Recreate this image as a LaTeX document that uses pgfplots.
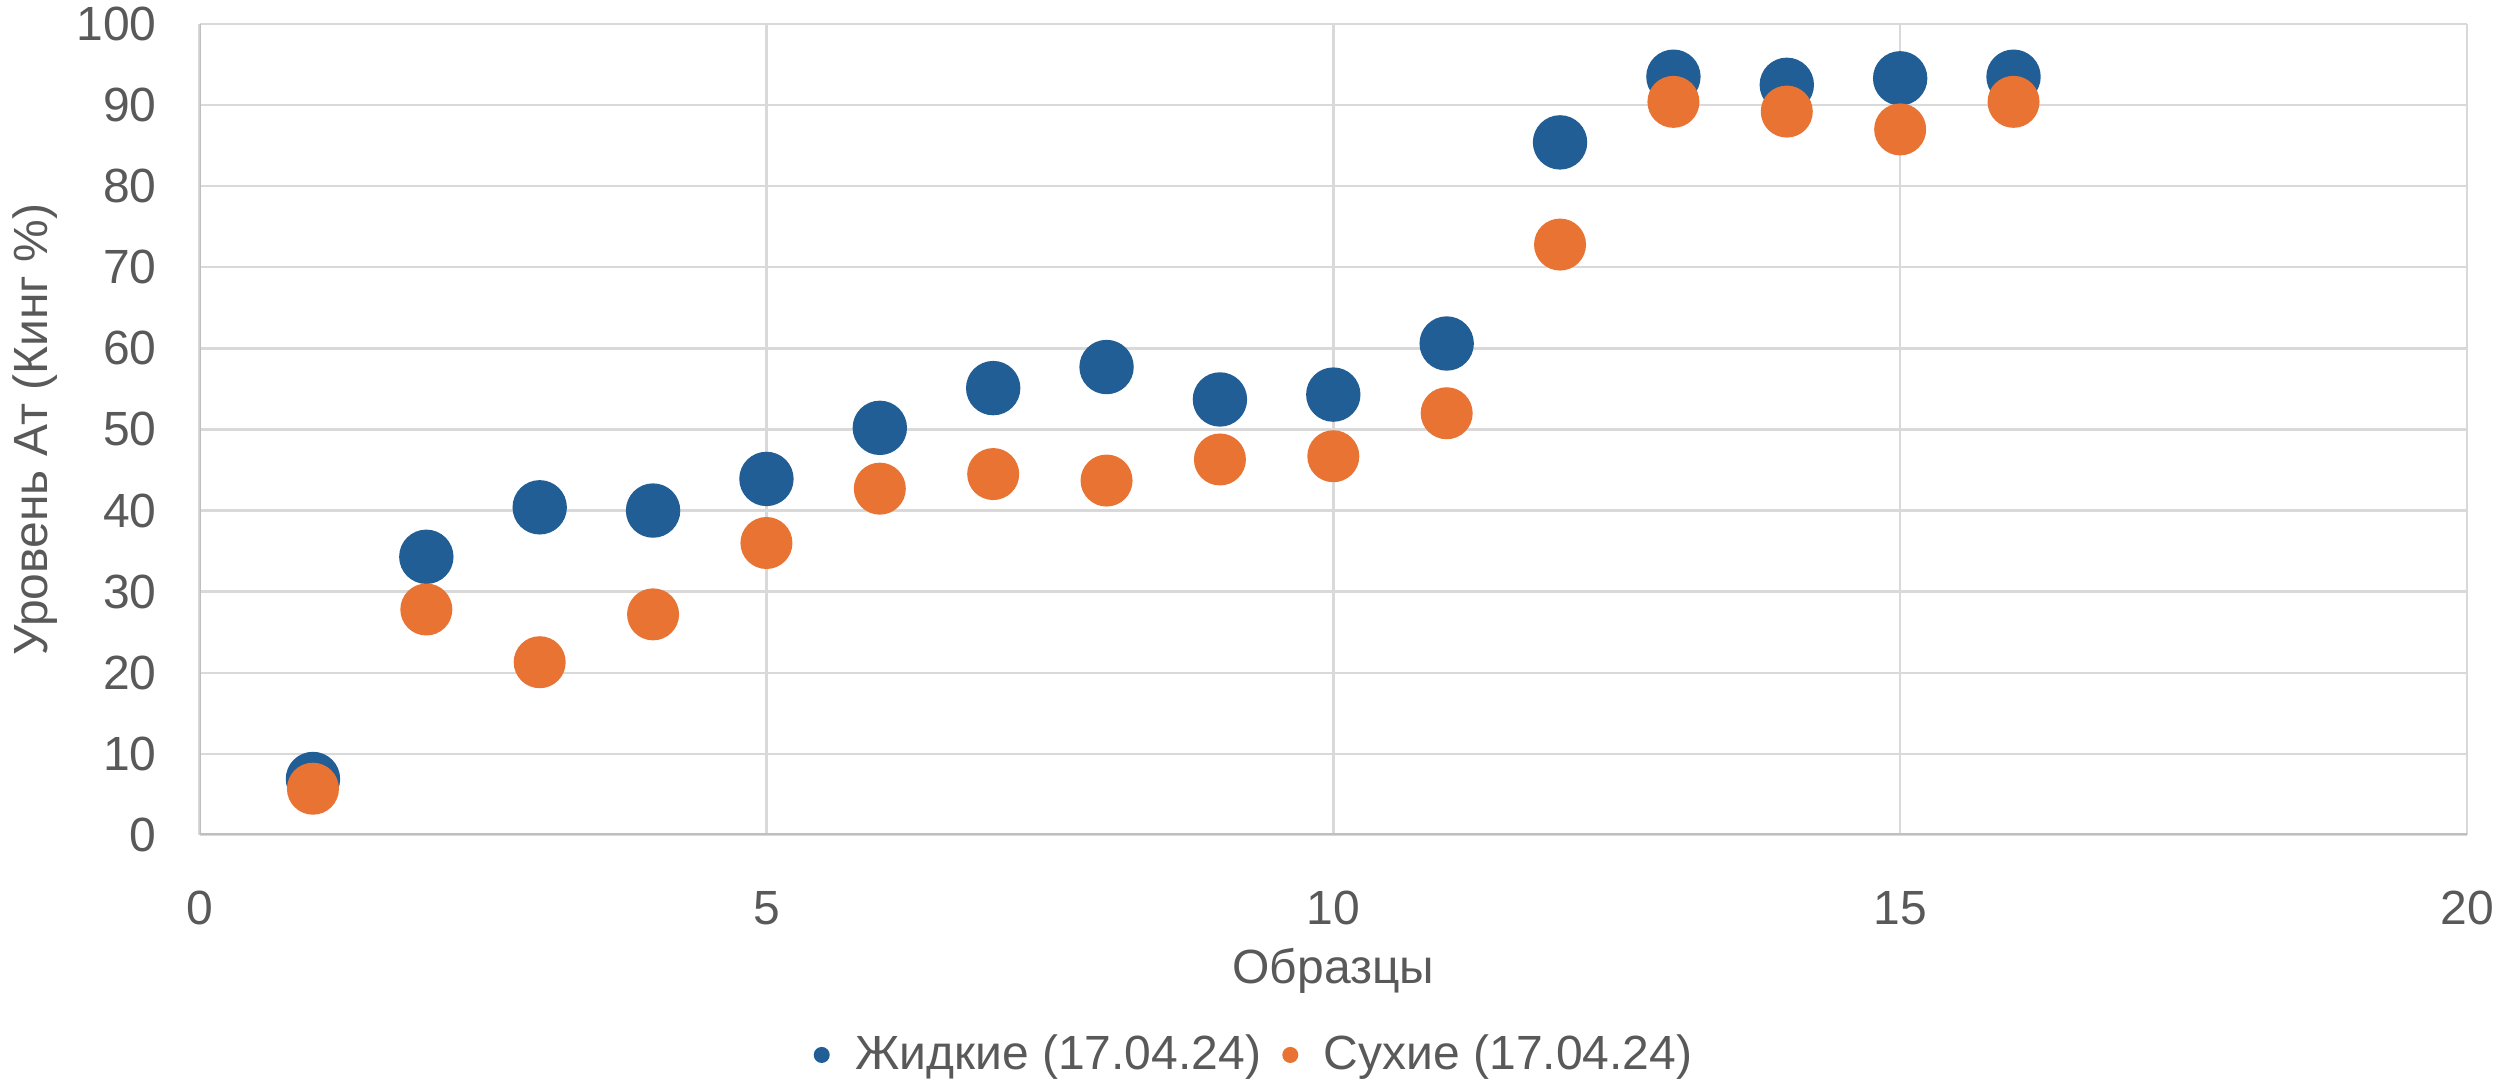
\documentclass[border=0pt]{standalone}
\usepackage{fontspec}
\setmainfont{Liberation Sans}
\usepackage{pgfplots}
\pgfplotsset{compat=1.18}
\definecolor{cblue}{RGB}{34,94,150}
\definecolor{corange}{RGB}{233,115,51}
\definecolor{tgray}{RGB}{89,89,89}
\definecolor{gridgray}{RGB}{217,217,217}
\definecolor{axgray}{RGB}{191,191,191}
\begin{document}
\begin{tikzpicture}
\begin{axis}[
  scale only axis, width=566.9pt, height=202.75pt,
  xmin=0, xmax=20, ymin=0, ymax=100,
  xtick={0,5,...,20}, ytick={0,10,...,100},
  major tick length=0pt,
  grid=major, major grid style={gridgray, line width=0.6pt},
  axis line style={draw=none},
  /pgf/number format/assume math mode=true,
  ticklabel style={font=\fontsize{12}{14.4}\selectfont, text=tgray},
  xticklabel style={yshift=-10.5pt},
  yticklabel style={xshift=-7.2pt},
  xlabel={Образцы}, ylabel={Уровень Ат (Кинг \%)},
  label style={font=\fontsize{12}{14.4}\selectfont, text=tgray},
  xlabel style={at={(axis description cs:0.5,0)}, anchor=center, yshift=-34pt},
  ylabel style={at={(axis description cs:0,0.5)}, anchor=center, xshift=0pt, yshift=41pt},
  legend columns=2,
  legend style={draw=none, fill=none, at={(0.4665,-0.2713)}, anchor=center,
    font=\fontsize{12}{14.4}\selectfont, text=tgray,
    /tikz/every odd column/.append style={column sep=4.6pt},
    /tikz/every even column/.append style={column sep=3.5pt}},
  legend cell align=left,
]
\addplot[only marks, mark=*, mark size=6.6pt, color=cblue, mark options={fill=cblue, draw=cblue},
  legend image post style={mark size=1.8pt}] coordinates {
 (1,6.9) (2,34.3) (3,40.4) (4,40.0) (5,43.9) (6,50.2) (7,55.1) (8,57.7)
 (9,53.7) (10,54.3) (11,60.6) (12,85.4) (13,93.5) (14,92.5) (15,93.3) (16,93.5)
};
\addlegendentry{Жидкие (17.04.24)}
\addplot[only marks, mark=*, mark size=6.3pt, color=corange, mark options={fill=corange, draw=corange},
  legend image post style={mark size=1.8pt}] coordinates {
 (1,5.7) (2,27.8) (3,21.3) (4,27.2) (5,36.0) (6,42.7) (7,44.5) (8,43.7)
 (9,46.3) (10,46.7) (11,52.0) (12,72.8) (13,90.4) (14,89.2) (15,87.0) (16,90.4)
};
\addlegendentry{Сухие (17.04.24)}
\draw[axgray, line width=0.75pt] (rel axis cs:0,1) -- (rel axis cs:0,0) -- (rel axis cs:1,0);
\end{axis}
\pgfresetboundingbox
\path[use as bounding box] ([xshift=-49.9pt,yshift=-61.75pt]current axis.south west) rectangle ([xshift=8.75pt,yshift=6pt]current axis.north east);
\end{tikzpicture}
\end{document}
